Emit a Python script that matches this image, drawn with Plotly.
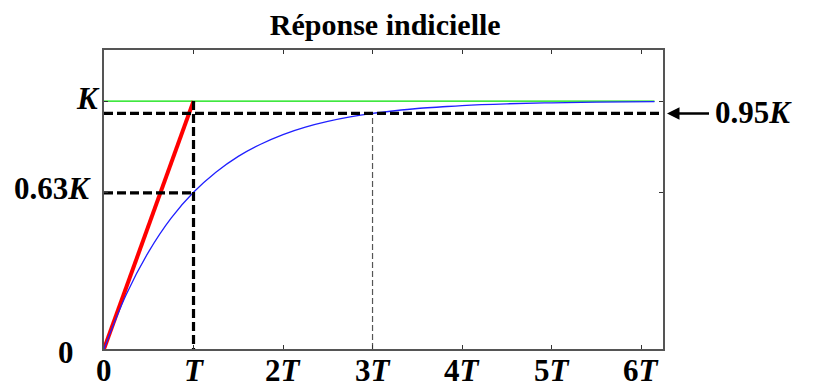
import plotly.graph_objects as go

# ---- data ----
t_values = [0, 0.25, 0.5, 0.75, 1.0, 1.25, 1.5, 1.75, 2.0, 2.25, 2.5, 2.75,
            3.0, 3.25, 3.5, 3.75, 4.0, 4.5, 5.0, 5.5, 6.15]
response = [0, 0.221, 0.393, 0.528, 0.632, 0.713, 0.777, 0.826, 0.865, 0.895,
            0.918, 0.936, 0.950, 0.961, 0.970, 0.976, 0.982, 0.989, 0.993, 0.996, 0.998]
gain_x = [0, 6.15]
gain_y = [1, 1]
tangent_x = [0, 1]
tangent_y = [0, 1]
level_63 = 0.63
level_95 = 0.95
t_tau = 1
t_3tau = 3
x_end = 6.245
tick_vals = [0, 1, 2, 3, 4, 5, 6]
tick_text = ["<b>0</b>", "<b><i>T</i></b>", "<b>2<i>T</i></b>", "<b>3<i>T</i></b>",
             "<b>4<i>T</i></b>", "<b>5<i>T</i></b>", "<b>6<i>T</i></b>"]

FONT = "Liberation Serif"
fig = go.Figure()

# green K line
fig.add_trace(go.Scatter(x=gain_x, y=gain_y, mode="lines",
                         line=dict(color="#00e000", width=1.3), hoverinfo="skip"))
# red tangent
fig.add_trace(go.Scatter(x=tangent_x, y=tangent_y, mode="lines",
                         line=dict(color="#ff0000", width=4), hoverinfo="skip"))
# blue response
fig.add_trace(go.Scatter(x=t_values, y=response, mode="lines",
                         line=dict(color="#2020ff", width=1.3, shape="spline"), hoverinfo="skip"))
# thin dashed at 3T
fig.add_trace(go.Scatter(x=[t_3tau, t_3tau], y=[0, level_95], mode="lines",
                         line=dict(color="#555555", width=1.2, dash="6px,3px"), hoverinfo="skip"))
# thick black dashed lines
blk = dict(color="black", width=3.2, dash="9px,4px")
fig.add_trace(go.Scatter(x=[0, x_end], y=[level_95, level_95], mode="lines", line=blk, hoverinfo="skip"))
fig.add_trace(go.Scatter(x=[0, t_tau], y=[level_63, level_63], mode="lines", line=blk, hoverinfo="skip"))
fig.add_trace(go.Scatter(x=[t_tau, t_tau], y=[1, 0], mode="lines", line=blk, hoverinfo="skip"))

lbl = dict(family=FONT, size=31, color="black")
fig.update_layout(
    width=813, height=383,
    margin=dict(l=96, r=158, t=42, b=42),
    paper_bgcolor="white", plot_bgcolor="white",
    showlegend=False,
    title=dict(text="<b>Réponse indicielle</b>", x=0.464, xanchor="center",
               y=0.956, yanchor="middle", font=dict(family=FONT, size=30, color="black")),
    xaxis=dict(range=[0, x_end], tickvals=tick_vals, showticklabels=False,
               ticks="inside", ticklen=4, tickcolor="#333", mirror="ticks",
               showline=True, linecolor="#555", linewidth=1.5, showgrid=False,
               zeroline=False, automargin=False),
    yaxis=dict(range=[0, 1.206], tickvals=[level_63, 1], showticklabels=False,
               ticks="inside", ticklen=4, tickcolor="#333", mirror="ticks",
               showline=True, linecolor="#555", linewidth=1.5, showgrid=False,
               zeroline=False, automargin=False),
)

for tv, tt in zip(tick_vals, tick_text):
    fig.add_annotation(x=tv, y=0, xref="x", yref="paper", xanchor="center", yanchor="middle",
                       yshift=-21, borderpad=0, text=tt, showarrow=False, font=lbl)

fig.add_annotation(x=0, y=1, xref="paper", yref="y", xanchor="right", xshift=-2, yshift=3,
                   text="<b><i>K</i></b>", showarrow=False, font=lbl)
fig.add_annotation(x=0, y=level_63, xref="paper", yref="y", xanchor="right", xshift=-11, yshift=4,
                   text="<b>0.63<i>K</i></b>", showarrow=False, font=lbl)
fig.add_annotation(x=0, y=0, xref="paper", yref="y", xanchor="right", xshift=-28, yshift=-3,
                   text="<b>0</b>", showarrow=False, font=lbl)
fig.add_annotation(x=x_end, y=level_95, xref="x", yref="y", xanchor="left",
                   ax=46, ay=0, axref="pixel", ayref="pixel",
                   text="", showarrow=True, arrowhead=2, arrowsize=1, arrowwidth=2.5,
                   arrowcolor="black", standoff=4)
fig.add_annotation(x=x_end, y=level_95, xref="x", yref="y", xanchor="left", xshift=50, yshift=1,
                   text="<b>0.95<i>K</i></b>", showarrow=False, font=lbl)

fig.write_html("out.html")
